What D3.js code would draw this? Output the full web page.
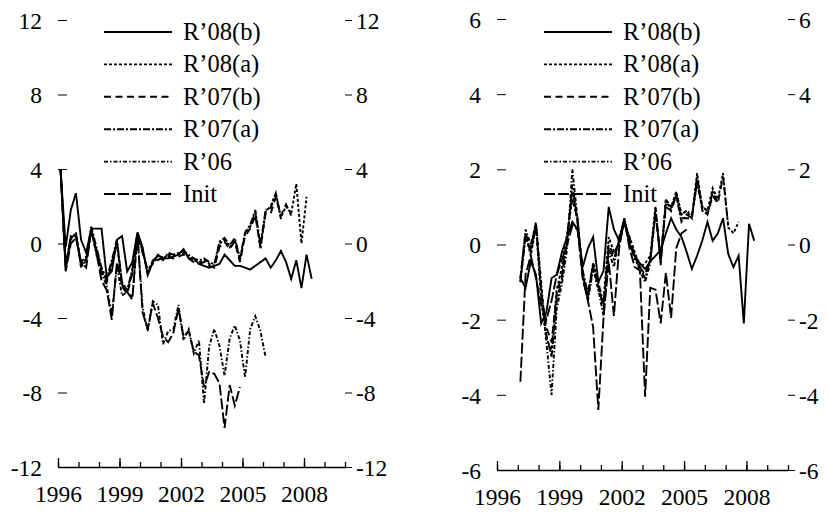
<!DOCTYPE html>
<html><head><meta charset="utf-8">
<script src="https://cdn.jsdelivr.net/npm/d3@7"></script>
<style>
html,body{margin:0;padding:0;background:#fff;}
svg{display:block;font-family:"Liberation Serif","Times New Roman",serif;}
</style></head>
<body><svg id="c" width="829" height="513"></svg>
<script>
// ---------- data ----------
const seriesNames = ["R\u201908(b)", "R\u201908(a)", "R\u201907(b)", "R\u201907(a)", "R\u201906", "Init"];
const yearTicks = [1996, 1999, 2002, 2005, 2008];
const minorYears = [1996,1997,1998,1999,2000,2001,2002,2003,2004,2005,2006,2007,2008,2009,2010];
const leftYTicks = [-12, -8, -4, 0, 4, 8, 12];
const rightYTicks = [-6, -4, -2, 0, 2, 4, 6];

// Left panel: quarterly values starting 1996Q1
const leftStart = 1996;
const L_R08b = [4.0,-0.2,1.8,2.7,0.2,-0.5,0.8,0.8,0.8,-1.8,-1.5,0.2,0.4,-1.5,-1.0,0.6,-0.2,-1.7,-1.0,-0.6,-0.8,-0.8,-0.7,-0.6,-0.3,-0.8,-0.8,-1.1,-1.2,-1.3,-1.2,-1.1,-0.6,-0.9,-1.2,-1.2,-1.3,-1.4,-1.2,-1.0,-0.8,-1.3,-0.9,-0.4,-1.0,-1.9,-0.9,-2.4,-0.6,-1.9];
const L_R08a = [4.0,-1.4,0.2,0.6,-1.2,-0.8,0.6,-0.3,-1.4,-2.0,-1.0,0.0,-2.2,-2.6,-1.5,0.5,-0.4,-1.5,-1.0,-0.8,-0.8,-0.6,-0.7,-0.6,-0.5,-0.7,-0.9,-1.0,-0.9,-1.1,-1.2,0.0,0.2,-0.2,0.2,-0.9,0.5,0.9,1.7,-0.3,1.7,2.0,2.7,1.4,2.0,1.6,3.2,0.0,2.5];
const L_R07b = [4.0,-1.3,0.3,0.5,-1.1,-0.9,0.7,-0.4,-1.5,-2.1,-1.1,0.1,-2.3,-2.7,-1.6,0.4,-0.5,-1.4,-1.1,-0.9,-0.7,-0.7,-0.8,-0.7,-0.6,-0.8,-1.0,-1.1,-1.0,-1.2,-1.3,-0.2,0.1,-0.3,0.1,-1.0,0.4,0.8,1.5,-0.2,1.6,1.6,2.5,1.5,2.1,1.5];
const L_R07a = [4.0,-1.2,0.4,0.4,-1.0,-0.7,0.9,-0.2,-1.3,-1.9,-0.9,0.2,-2.1,-2.5,-1.4,0.6,-0.3,-1.6,-0.9,-0.7,-0.9,-0.5,-0.6,-0.5,-0.4,-0.6,-0.8,-0.9,-0.8,-1.0,-1.1,0.1,0.3,-0.1,0.3,-0.8,0.6,1.0,1.8,-0.1,1.8,1.9,2.7,1.3];
const L_R06 = [4.0,-1.2,0.3,0.5,-1.3,-0.9,0.7,-0.6,-1.6,-2.3,-3.8,-1.2,-2.8,-2.6,-2.9,0.4,-3.4,-4.7,-3.1,-3.3,-5.4,-4.7,-4.6,-3.3,-5.2,-4.6,-5.9,-5.2,-8.6,-5.5,-4.6,-5.5,-7.1,-5.1,-4.4,-5.2,-7.2,-4.6,-3.9,-4.7,-6.1];
const L_Init = [4.0,-1.5,0.0,0.3,-1.0,-1.3,0.8,-0.5,-2.0,-2.5,-4.1,-1.0,-2.2,-2.6,-3.0,0.5,-3.7,-4.6,-3.2,-4.0,-5.0,-5.3,-4.8,-3.5,-5.0,-4.7,-5.8,-6.0,-7.7,-6.9,-7.0,-7.5,-9.9,-7.6,-8.7,-7.7];

// Right panel: quarterly values starting 1997Q1
const rightStart = 1997;
const R_R08b = [-0.9,-1.15,-0.45,-0.8,-2.1,-1.8,-0.9,-0.8,-0.2,0.2,0.6,0.4,-0.6,-0.1,0.2,-1.0,-0.7,1.0,0.4,0.1,0.7,0.0,-0.3,-0.5,-0.65,-0.45,-0.3,-0.15,0.3,0.7,0.4,0.2,-0.2,-0.65,-0.3,0.1,0.6,0.1,0.3,0.7,-0.25,-0.6,-0.3,-2.1,0.55,0.1];
const R_R08a = [-1.0,0.3,-0.3,0.5,-1.5,-2.5,-2.8,-1.2,-0.6,0.3,1.2,0.7,-0.8,-1.4,-0.5,-1.2,-1.5,0.2,-0.2,0.0,0.6,0.2,-0.2,-0.6,-0.5,-0.3,1.0,-0.5,1.2,1.0,1.4,0.8,0.9,0.7,1.9,1.0,0.9,1.5,1.2,1.9,0.45,0.3,0.6];
const R_R07b = [-0.9,0.3,-0.1,0.6,-1.3,-2.2,-2.6,-1.3,-0.8,0.2,1.4,0.6,-0.8,-1.4,-0.6,-1.1,-1.7,0.0,-0.3,0.1,0.6,0.2,-0.3,-0.6,-0.8,-0.4,0.8,-0.3,1.0,0.9,1.3,0.7,0.7,0.7,1.7,1.0,0.8,1.3,1.1,1.8,0.5];
const R_R07a = [-1.0,0.2,-0.2,0.5,-1.2,-2.4,-3.0,-1.5,-0.9,0.1,1.6,0.6,-0.7,-1.3,-0.5,-1.0,-1.6,-0.1,-0.4,0.1,0.6,0.1,-0.4,-0.6,-0.9,-0.4,0.9,-0.4,1.1,1.0,1.3,0.6,0.8,0.7,1.8,0.9,0.8,1.4,1.1];
const R_R06 = [-0.9,0.4,0.0,0.55,-1.0,-2.6,-4.0,-1.7,-1.05,-0.1,2.0,0.7,-0.9,-1.5,-0.65,-1.2,-1.9,-0.2,-0.6,0.2,0.65,0.0,-0.3,-0.7,-1.0,-0.5,1.0,-0.55,1.2,0.9,1.4,0.8,0.9,0.8,1.6,1.0,0.9];
const R_Init = [-3.65,-0.8,-0.3,-0.9,-1.6,-2.0,-1.5,-0.8,-0.4,0.0,0.5,0.4,-0.9,-1.5,-2.2,-4.4,-1.95,-0.45,-1.9,-0.1,0.65,-0.1,-0.6,-0.7,-4.05,-1.15,-1.2,-2.1,-0.75,-1.95,-0.1,0.3,0.4];

const dashes = [null, "3,2", "7,4.5", "7,2,2,2", "4,2,1.5,2", "11,3"];

// ---------- drawing ----------
const svg = d3.select("#c");
const FS = 23.5;
const fmt = d => String(d);

function panel(cfg) {
  const x = d3.scaleLinear().domain([1996, 2010]).range([cfg.x0, cfg.x1]);
  const y = d3.scaleLinear().domain(cfg.yDomain).range([cfg.yBottom, cfg.yTop]);
  const g = svg.append("g");

  // bottom axis (major + minor ticks pointing up)
  const gxMinor = g.append("g").attr("transform", `translate(0,${cfg.yBottom})`)
    .call(d3.axisBottom(x).tickValues(minorYears).tickSizeInner(-5).tickSizeOuter(0).tickFormat(""));
  const gx = g.append("g").attr("transform", `translate(0,${cfg.yBottom})`)
    .call(d3.axisBottom(x).tickValues(yearTicks).tickSizeInner(-9).tickSizeOuter(0).tickPadding(18).tickFormat(fmt));
  gx.select(".domain").remove();
  [gx, gxMinor].forEach(a => a.selectAll("line,path").attr("stroke", "#000").attr("stroke-width", 1.3));
  gx.selectAll("text").attr("font-size", FS).attr("fill", "#000").attr("font-family", "Liberation Serif, serif");

  // left axis (ticks inward)
  const gl = g.append("g").attr("transform", `translate(${cfg.x0},0)`)
    .call(d3.axisLeft(y).tickValues(cfg.yTicks).tickSizeInner(-9).tickSizeOuter(0).tickPadding(16).tickFormat(fmt));
  gl.select(".domain").remove();
  // right axis (ticks outward)
  const gr = g.append("g").attr("transform", `translate(${cfg.x1},0)`)
    .call(d3.axisRight(y).tickValues(cfg.yTicks).tickSizeInner(7).tickSizeOuter(0).tickPadding(4).tickFormat(fmt));
  gr.select(".domain").remove();
  [gl, gr].forEach(a => {
    a.selectAll("line").attr("stroke", "#000").attr("stroke-width", 1);
    a.selectAll("text").attr("font-size", FS).attr("fill", "#000").attr("dy", "0.36em").attr("font-family", "Liberation Serif, serif");
  });

  // lines (draw in reverse so solid on top)
  const line = d3.line().x(d => x(d.t)).y(d => y(d.v));
  for (let k = cfg.series.length - 1; k >= 0; k--) {
    const pts = cfg.series[k].map((v, i) => ({ t: cfg.start + (i + 0.5) / 4, v }));
    g.append("path").datum(pts).attr("d", line)
      .attr("fill", "none").attr("stroke", "#000").attr("stroke-width", 1.9)
      .attr("stroke-linejoin", "miter").attr("stroke-dasharray", dashes[k]);
  }

  // legend
  const lg = g.append("g");
  seriesNames.forEach((name, k) => {
    const yy = cfg.legY0 + k * 32.4;
    lg.append("line").attr("x1", cfg.legX).attr("x2", cfg.legX + 68).attr("y1", yy).attr("y2", yy)
      .attr("stroke", "#000").attr("stroke-width", 1.9).attr("stroke-dasharray", dashes[k]);
    lg.append("text").attr("x", cfg.legX + 79).attr("y", yy + 8).text(name)
      .attr("font-size", 24.5).attr("fill", "#000").attr("font-family", "Liberation Serif, serif");
  });
}

panel({ x0: 58, x1: 345, yTop: 20, yBottom: 467, yDomain: [-12, 12], yTicks: leftYTicks,
  start: leftStart, series: [L_R08b, L_R08a, L_R07b, L_R07a, L_R06, L_Init], legX: 104, legY0: 32 });
panel({ x0: 497, x1: 788, yTop: 19, yBottom: 470, yDomain: [-6, 6], yTicks: rightYTicks,
  start: rightStart, series: [R_R08b, R_R08a, R_R07b, R_R07a, R_R06, R_Init], legX: 544, legY0: 32 });
</script>
</body></html>
